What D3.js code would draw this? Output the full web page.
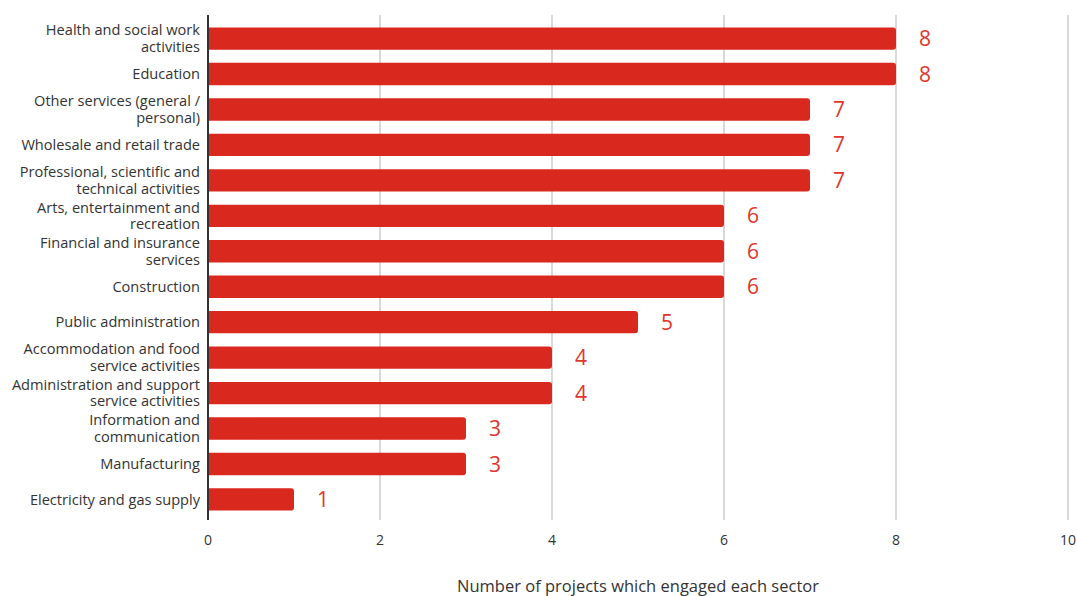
<!DOCTYPE html>
<html>
<head>
<meta charset="utf-8">
<script src="https://cdn.jsdelivr.net/npm/d3@7"></script>
<style>
  html, body { margin: 0; padding: 0; background: #fff; }
  svg text { font-family: "Open Sans", "Noto Sans", sans-serif; }
</style>
</head>
<body>
<svg id="chart" width="1077" height="596"></svg>
<script>
// Sectors engaged by projects (top to bottom), with the label line breaks used on the axis
const sectors = [
  "Health and social work activities",
  "Education",
  "Other services (general / personal)",
  "Wholesale and retail trade",
  "Professional, scientific and technical activities",
  "Arts, entertainment and recreation",
  "Financial and insurance services",
  "Construction",
  "Public administration",
  "Accommodation and food service activities",
  "Administration and support service activities",
  "Information and communication",
  "Manufacturing",
  "Electricity and gas supply"
];
const sectorLines = [
  ["Health and social work", "activities"],
  ["Education"],
  ["Other services (general /", "personal)"],
  ["Wholesale and retail trade"],
  ["Professional, scientific and", "technical activities"],
  ["Arts, entertainment and", "recreation"],
  ["Financial and insurance", "services"],
  ["Construction"],
  ["Public administration"],
  ["Accommodation and food", "service activities"],
  ["Administration and support", "service activities"],
  ["Information and", "communication"],
  ["Manufacturing"],
  ["Electricity and gas supply"]
];
const projectCounts = [8, 8, 7, 7, 7, 6, 6, 6, 5, 4, 4, 3, 3, 1];
const xTicks = [0, 2, 4, 6, 8, 10];
const xTitle = "Number of projects which engaged each sector";

const barColor = "#d9291f";
const labelColor = "#e0362c";

const svg = d3.select("#chart");
const margin = { left: 208, right: 9, top: 21, bottom: 79 };
const W = 1077, H = 596;

const x = d3.scaleLinear().domain([0, 10]).range([margin.left, W - margin.right]);
const y = d3.scaleBand().domain(sectors).range([margin.top, H - margin.bottom]).paddingInner(0.37).paddingOuter(0.18);

const plotTop = 15, plotBottom = 520;

// vertical gridlines
svg.append("g")
  .selectAll("line")
  .data(xTicks.filter(t => t > 0))
  .join("line")
  .attr("x1", d => x(d)).attr("x2", d => x(d))
  .attr("y1", plotTop).attr("y2", plotBottom)
  .attr("stroke", "#cccccc").attr("stroke-width", 1.5);

// bars: square at the baseline, rounded at the end
const r = 3;
svg.append("g")
  .selectAll("path")
  .data(sectors)
  .join("path")
  .attr("fill", barColor)
  .attr("d", (d, i) => {
    const x0 = x(0), x1 = x(projectCounts[i]);
    const y0 = y(d), h = y.bandwidth();
    return `M${x0},${y0}H${x1 - r}Q${x1},${y0} ${x1},${y0 + r}V${y0 + h - r}Q${x1},${y0 + h} ${x1 - r},${y0 + h}H${x0}Z`;
  });

// value labels
svg.append("g")
  .selectAll("text")
  .data(sectors)
  .join("text")
  .attr("x", (d, i) => x(projectCounts[i]) + 29)
  .attr("y", d => y(d) + y.bandwidth() / 2)
  .attr("dy", "0.36em")
  .attr("text-anchor", "middle")
  .attr("fill", labelColor)
  .attr("font-size", 21)
  .text((d, i) => projectCounts[i]);

// category axis line
svg.append("line")
  .attr("x1", x(0)).attr("x2", x(0))
  .attr("y1", plotTop).attr("y2", plotBottom)
  .attr("stroke", "#333").attr("stroke-width", 2);

// category labels
const catG = svg.append("g");
sectors.forEach((s, i) => {
  const lines = sectorLines[i];
  const cy = y(s) + y.bandwidth() / 2;
  const lh = 16.5;
  const t = catG.append("text")
    .attr("text-anchor", "end")
    .attr("fill", "#333")
    .attr("font-size", 14.6);
  lines.forEach((ln, j) => {
    t.append("tspan")
      .attr("x", x(0) - 8)
      .attr("y", cy + (j - (lines.length - 1) / 2) * lh)
      .attr("dy", "0.35em")
      .text(ln);
  });
});

// x tick labels
svg.append("g")
  .selectAll("text")
  .data(xTicks)
  .join("text")
  .attr("x", d => x(d))
  .attr("y", 540)
  .attr("dy", "0.35em")
  .attr("text-anchor", "middle")
  .attr("fill", "#333")
  .attr("font-size", 14)
  .text(d => d);

// axis title
svg.append("text")
  .attr("x", (x(0) + x(10)) / 2)
  .attr("y", 586)
  .attr("dy", "0.35em")
  .attr("text-anchor", "middle")
  .attr("fill", "#333")
  .attr("font-size", 16.5)
  .text(xTitle);
</script>
</body>
</html>
